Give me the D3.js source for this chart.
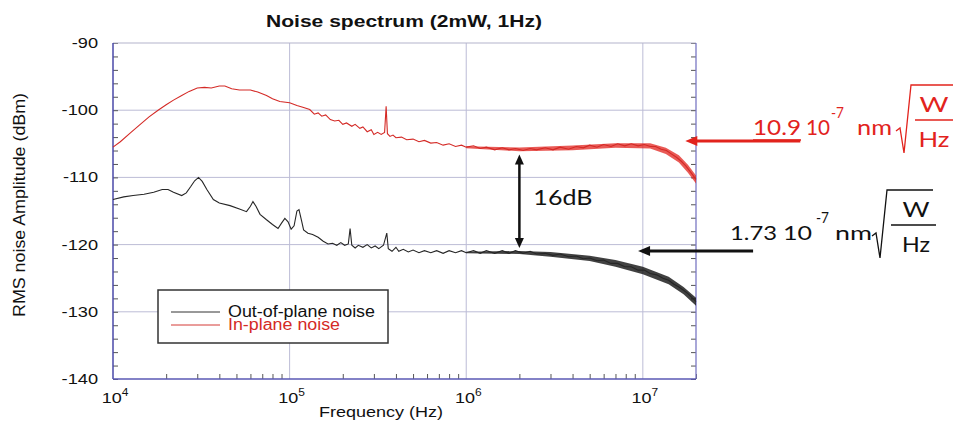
<!DOCTYPE html>
<html>
<head>
<meta charset="utf-8">
<script src="https://cdn.jsdelivr.net/npm/d3@7"></script>
<style>
body{margin:0;background:#fff;}
text{font-family:"Liberation Sans",Arial,sans-serif;}
.ann text{font-family:Lato,"Open Sans",sans-serif;}
</style>
</head>
<body>
<svg class="chart"></svg>
<script>
var title = 'Noise spectrum (2mW, 1Hz)';
var xLabel = 'Frequency (Hz)';
var yLabel = 'RMS noise Amplitude (dBm)';
var xDomain = [1e4, 2e7];
var yDomain = [-140, -90];
var xMajor = [1e4, 1e5, 1e6, 1e7];
var xExp = ['4', '5', '6', '7'];
var yMajor = [-140, -130, -120, -110, -100, -90];
var seriesNames = ['Out-of-plane noise', 'In-plane noise'];

// [frequency Hz, dBm]
var inTrace = [[1e4,-105.5],[1.1e4,-104.7],[1.25e4,-103.4],[1.4e4,-102.3],[1.6e4,-101],[1.8e4,-100],[2e4,-99.2],
  [2.2e4,-98.5],[2.45e4,-97.8],[2.7e4,-97.2],[3e4,-96.7],[3.3e4,-96.6],[3.6e4,-96.7],[4e4,-96.4],[4.3e4,-96.4],
  [4.7e4,-96.8],[5.2e4,-97],[6e4,-97],[6.6e4,-97.3],[7.4e4,-97.8],[8e4,-98.3],[8.8e4,-98.7],[1e5,-98.9],
  [1.1e5,-99.3],[1.2e5,-99.6],[1.3e5,-99.9],[1.38e5,-100.6],[1.45e5,-100.4],[1.52e5,-100.9],[1.6e5,-100.7],
  [1.7e5,-101.4],[1.8e5,-101.6],[1.9e5,-101.5],[2e5,-102.1],[2.1e5,-101.9],[2.25e5,-102.4],[2.35e5,-102.1],
  [2.5e5,-102.7],[2.6e5,-102.5],[2.75e5,-103.2],[2.9e5,-102.9],[3e5,-103.6],[3.15e5,-103.3],[3.3e5,-103.6],
  [3.45e5,-103.3],[3.52e5,-99.4],[3.58e5,-103.5],[3.7e5,-103.9],[3.85e5,-103.7],[4e5,-104.1],[4.3e5,-104.0],
  [4.6e5,-104.4],[5e5,-104.3],[5.4e5,-104.7],[5.8e5,-104.5],[6.3e5,-104.9],[6.8e5,-104.8],[7.4e5,-105.2],
  [8e5,-105.0],[8.7e5,-105.4],[9.4e5,-105.2],[1e6,-105.5],[1.1e6,-105.3],[1.2e6,-105.7],[1.3e6,-105.5],
  [1.45e6,-105.9],[1.6e6,-105.6],[1.75e6,-105.9],[1.9e6,-105.7],[2.1e6,-106.0],[2.3e6,-105.7],[2.5e6,-105.9],
  [2.8e6,-105.6],[3.1e6,-105.9],[3.4e6,-105.5],[3.8e6,-105.8],[4.2e6,-105.4],[4.6e6,-105.6],[5e6,-105.2],
  [5.5e6,-105.5],[6e6,-105.1],[6.6e6,-105.4],[7.2e6,-105.0],[7.9e6,-105.3],[8.6e6,-105.0],[9.4e6,-105.3],
  [1.02e7,-105.1],[1.1e7,-105.4],[1.18e7,-105.4],[1.27e7,-105.8],[1.36e7,-106.0],[1.45e7,-106.5],
  [1.55e7,-107.0],[1.65e7,-107.6],[1.75e7,-108.3],[1.85e7,-109.1],[2e7,-110.3]];

// [frequency, upper dBm, lower dBm] of the thick noise band
var inBand = [[1e6,-105.35,-105.65],[2e6,-105.55,-106.1],[4e6,-105.25,-105.95],[7e6,-104.9,-105.6],
  [1.1e7,-104.9,-105.7],[1.35e7,-105.6,-106.5],[1.6e7,-106.7,-107.8],[1.8e7,-108.1,-109.3],[2e7,-109.7,-110.9]];

var outTrace = [[1e4,-113.3],[1.15e4,-112.9],[1.3e4,-112.7],[1.5e4,-112.5],[1.7e4,-112.2],[1.9e4,-111.8],
  [2.05e4,-111.8],[2.2e4,-112.2],[2.45e4,-112.7],[2.6e4,-112.3],[2.75e4,-111.4],[2.9e4,-110.5],[3.05e4,-110],
  [3.2e4,-110.6],[3.4e4,-111.8],[3.7e4,-113.3],[4e4,-113.8],[4.6e4,-114.2],[5.2e4,-114.7],[5.7e4,-115.1],
  [6e4,-114.3],[6.2e4,-113.6],[6.45e4,-114.3],[6.8e4,-115.5],[7.4e4,-116.3],[8e4,-117],[8.6e4,-117.6],
  [9e4,-116.8],[9.4e4,-116.1],[9.8e4,-116.6],[1.02e5,-117.7],[1.06e5,-117.2],[1.1e5,-115],[1.13e5,-114.8],
  [1.17e5,-116.5],[1.2e5,-117.8],[1.27e5,-118.3],[1.35e5,-118.5],[1.45e5,-118.9],[1.55e5,-119.5],
  [1.65e5,-119.9],[1.75e5,-119.8],[1.85e5,-120.1],[1.95e5,-119.7],[2.05e5,-120.1],[2.15e5,-119.9],
  [2.2e5,-117.6],[2.25e5,-120.1],[2.35e5,-120.5],[2.45e5,-120.1],[2.6e5,-120.4],[2.75e5,-120.0],
  [2.9e5,-120.5],[3.05e5,-120.2],[3.2e5,-120.6],[3.4e5,-120.1],[3.55e5,-118.3],[3.62e5,-120.6],
  [3.8e5,-121.0],[4e5,-120.4],[4.15e5,-121.0],[4.4e5,-120.7],[4.7e5,-121.1],[5e5,-120.8],[5.4e5,-121.2],
  [5.8e5,-120.9],[6.3e5,-121.2],[6.8e5,-120.9],[7.4e5,-121.3],[8e5,-120.9],[8.7e5,-121.2],[9.4e5,-120.9],
  [1e6,-121.2],[1.1e6,-120.9],[1.2e6,-121.3],[1.3e6,-120.9],[1.45e6,-121.3],[1.6e6,-120.9],[1.75e6,-121.3],
  [1.9e6,-120.9],[2.1e6,-121.3],[2.3e6,-121.0],[2.5e6,-121.4],[2.8e6,-121.3],[3.1e6,-121.6],[3.4e6,-121.4],
  [3.8e6,-121.8],[4.2e6,-121.7],[4.6e6,-122.1],[5e6,-122.0],[5.5e6,-122.4],[6e6,-122.3],[6.6e6,-122.8],
  [7.2e6,-122.8],[7.9e6,-123.3],[8.6e6,-123.3],[9.4e6,-123.8],[1.02e7,-123.8],[1.1e7,-124.3],[1.2e7,-124.5],
  [1.3e7,-125.0],[1.4e7,-125.3],[1.5e7,-125.9],[1.6e7,-126.3],[1.7e7,-126.8],[1.8e7,-127.3],[1.9e7,-127.9],
  [2e7,-128.5]];

var outBand = [[1e6,-121.05,-121.3],[2e6,-120.95,-121.4],[3e6,-121.1,-121.8],[5e6,-121.65,-122.45],
  [7e6,-122.3,-123.3],[1e7,-123.3,-124.4],[1.4e7,-124.8,-125.9],[1.7e7,-126.3,-127.4],[2e7,-127.9,-129.1]];

var gapArrow = {f: 2e6, top: -106.6, bottom: -120.5, label: '16dB'};
var inNote = {f: 1.74e7, db: -104.6, value: '10.9'};
var outNote = {f: 9.4e6, db: -120.95, value: '1.73'};

var svgwidth = 953;
var svgheight = 425;

var margins = {
  top: 43,
  bottom: 46,
  left: 113,
  right: 257
};

var width = svgwidth - margins.left - margins.right;
var height = svgheight - margins.top - margins.bottom;

var svg = d3.select('.chart').attr('width', svgwidth).attr('height', svgheight);

var xscale = d3.scaleLog().domain(xDomain).range([margins.left, margins.left + width]);
var yscale = d3.scaleLinear().domain(yDomain).range([margins.top + height, margins.top]);

var gridColor = '#bcbcd6';
var redColor = '#e2231d';

// grid
var grid = svg.append('g').classed('grid', true);
grid.selectAll('.gx').data(xMajor.slice(1)).enter().append('line')
    .attr('x1', function(d){ return xscale(d); })
    .attr('x2', function(d){ return xscale(d); })
    .attr('y1', margins.top).attr('y2', margins.top + height)
    .attr('stroke', gridColor).attr('stroke-width', 1);
grid.selectAll('.gy').data(yMajor.slice(1, -1)).enter().append('line')
    .attr('x1', margins.left).attr('x2', margins.left + width)
    .attr('y1', function(d){ return yscale(d); })
    .attr('y2', function(d){ return yscale(d); })
    .attr('stroke', gridColor).attr('stroke-width', 1);

// minor ticks, pointing inward
var yMinor = d3.range(yDomain[0], yDomain[1] + 1, 2);
var xMinor = [];
xMajor.forEach(function(dec){
  for (var k = 2; k < 10; k++) {
    if (dec * k <= xDomain[1]) xMinor.push(dec * k);
  }
});

svg.append('g')
   .attr('transform', 'translate(' + margins.left + ',0)')
   .call(d3.axisRight(yscale).tickValues(yMinor).tickSize(5).tickFormat(''))
   .call(function(g){ g.select('.domain').remove(); })
   .selectAll('line').attr('stroke', '#555').attr('stroke-width', 1);

svg.append('g')
   .attr('transform', 'translate(' + (margins.left + width) + ',0)')
   .call(d3.axisLeft(yscale).tickValues(yMinor).tickSize(5).tickFormat(''))
   .call(function(g){ g.select('.domain').remove(); })
   .selectAll('line').attr('stroke', '#555').attr('stroke-width', 1);

svg.append('g')
   .attr('transform', 'translate(0,' + (margins.top + height) + ')')
   .call(d3.axisTop(xscale).tickValues(xMinor).tickSize(5).tickFormat(''))
   .call(function(g){ g.select('.domain').remove(); })
   .selectAll('line').attr('stroke', '#555').attr('stroke-width', 1);

// frame
svg.append('line').attr('x1', margins.left).attr('x2', margins.left + width)
   .attr('y1', margins.top).attr('y2', margins.top)
   .attr('stroke', '#b4b4cc').attr('stroke-width', 1.2);
svg.append('line').attr('x1', margins.left + width).attr('x2', margins.left + width)
   .attr('y1', margins.top).attr('y2', margins.top + height)
   .attr('stroke', '#7a78c4').attr('stroke-width', 1.3);
svg.append('line').attr('x1', margins.left).attr('x2', margins.left)
   .attr('y1', margins.top).attr('y2', margins.top + height)
   .attr('stroke', '#4a48a8').attr('stroke-width', 1.5);
svg.append('line').attr('x1', margins.left).attr('x2', margins.left + width)
   .attr('y1', margins.top + height).attr('y2', margins.top + height)
   .attr('stroke', '#5a58b4').attr('stroke-width', 1.5);

// tick labels
svg.selectAll('.ylab').data(yMajor).enter().append('text')
   .attr('transform', function(d){ return 'translate(' + (margins.left - 15) + ',' + yscale(d) + ') scale(1.3,1)'; })
   .attr('text-anchor', 'end')
   .attr('dy', '0.36em')
   .style('font-size', '14px')
   .attr('fill', '#111')
   .text(function(d){ return d; });

var xl = svg.selectAll('.xlab').data(xMajor).enter().append('text')
   .attr('transform', function(d){ return 'translate(' + (xscale(d) + 2) + ',' + (margins.top + height + 24) + ') scale(1.2,1)'; })
   .attr('text-anchor', 'middle')
   .style('font-size', '15px')
   .attr('fill', '#111');
xl.append('tspan').text('10');
xl.append('tspan').attr('dy', -7).style('font-size', '10px').text(function(d, i){ return xExp[i]; });

// titles
svg.append('text').attr('x', 266).attr('y', 27)
   .attr('textLength', 276).attr('lengthAdjust', 'spacingAndGlyphs')
   .style('font-size', '16.5px').style('font-weight', 'bold').attr('fill', '#111')
   .text(title);

svg.append('text').attr('x', 319).attr('y', 417)
   .attr('textLength', 124).attr('lengthAdjust', 'spacingAndGlyphs')
   .style('font-size', '14.5px').attr('fill', '#111')
   .text(xLabel);

svg.append('text').attr('transform', 'translate(25,205) rotate(-90)')
   .attr('text-anchor', 'middle')
   .attr('textLength', 224).attr('lengthAdjust', 'spacingAndGlyphs')
   .style('font-size', '16px').attr('fill', '#111')
   .text(yLabel);

// curves
var linegen = d3.line().x(function(d){ return xscale(d[0]); }).y(function(d){ return yscale(d[1]); });
var bandgen = d3.area().x(function(d){ return xscale(d[0]); })
                .y0(function(d){ return yscale(d[2]); })
                .y1(function(d){ return yscale(d[1]); });

var curves = svg.append('g').classed('curves', true);

curves.append('path').attr('d', bandgen(inBand)).attr('fill', redColor).attr('opacity', 0.75);
curves.append('path').attr('d', linegen(inTrace))
      .attr('fill', 'none').attr('stroke', '#d42a26').attr('stroke-width', 1.1);

curves.append('path').attr('d', bandgen(outBand)).attr('fill', '#111').attr('opacity', 0.8);
curves.append('path').attr('d', linegen(outTrace))
      .attr('fill', 'none').attr('stroke', '#262626').attr('stroke-width', 1.1);

// legend
var legend = svg.append('g').classed('legend', true);
legend.append('rect').attr('x', 158).attr('y', 290).attr('width', 230).attr('height', 53)
      .attr('fill', '#fff').attr('stroke', '#333').attr('stroke-width', 1.5);
var legColors = ['#333', '#d43a36'];
var legText = ['#111', '#d42a26'];
var legLens = [147, 112];
seriesNames.forEach(function(name, i){
  legend.append('line').attr('x1', 171).attr('x2', 220)
        .attr('y1', 312 + i * 13).attr('y2', 312 + i * 13)
        .attr('stroke', legColors[i]).attr('stroke-width', 1);
  legend.append('text').attr('x', 228).attr('y', 317 + i * 13)
        .attr('textLength', legLens[i]).attr('lengthAdjust', 'spacingAndGlyphs')
        .style('font-size', '16px').attr('fill', legText[i])
        .text(name);
});

// annotations
var ann = svg.append('g').classed('ann', true);

var head = function(x, y, dir, color, len, half){
  // dir: 'l' left, 'u' up, 'd' down
  var pts;
  if (dir == 'l') pts = [[x, y], [x + len, y - half], [x + len, y + half]];
  else if (dir == 'u') pts = [[x, y], [x - half, y + len], [x + half, y + len]];
  else pts = [[x, y], [x - half, y - len], [x + half, y - len]];
  ann.append('path').attr('d', 'M' + pts.join('L') + 'Z').attr('fill', color);
};

var gx = xscale(gapArrow.f);
var gy1 = yscale(gapArrow.top);
var gy2 = yscale(gapArrow.bottom);
ann.append('line').attr('x1', gx).attr('x2', gx).attr('y1', gy1 + 8).attr('y2', gy2 - 8)
   .attr('stroke', '#111').attr('stroke-width', 2.5);
head(gx, gy1, 'u', '#111', 10, 4.5);
head(gx, gy2, 'd', '#111', 10, 4.5);
ann.append('text').attr('x', gx + 14).attr('y', (gy1 + gy2) / 2 + 4)
   .attr('textLength', 59).attr('lengthAdjust', 'spacingAndGlyphs')
   .style('font-size', '22px').attr('fill', '#111')
   .text(gapArrow.label);

var drawNote = function(note, color, o){
  var tx = xscale(note.f);
  var ty = yscale(note.db);
  ann.append('line').attr('x1', tx + 9).attr('x2', tx + 115).attr('y1', ty).attr('y2', ty)
     .attr('stroke', color).attr('stroke-width', 3);
  head(tx, ty, 'l', color, 12, 5);

  var t = function(str, x, y, size, len, anchor){
    ann.append('text').attr('x', x).attr('y', y)
       .attr('text-anchor', anchor || 'start')
       .attr('textLength', len).attr('lengthAdjust', 'spacingAndGlyphs')
       .style('font-size', size + 'px').attr('fill', color)
       .text(str);
  };
  t(note.value, o.x, o.base, o.size, o.valueLen);
  t('10', o.tenX, o.base, o.size, o.tenLen);
  t('-7', o.supX, o.base - 17, 16, 13);
  t('nm', o.nmX, o.base, o.size, o.nmLen);

  var r = o.rootX;
  ann.append('path')
     .attr('d', 'M' + r + ',' + (o.base - 4) + 'L' + (r + 4) + ',' + (o.base - 7) +
                'L' + (r + 8) + ',' + (o.base + 18) + 'L' + (r + 15) + ',' + (o.base - 50) +
                'L' + o.rootEnd + ',' + (o.base - 50))
     .attr('fill', 'none').attr('stroke', color).attr('stroke-width', 1.3);
  ann.append('line').attr('x1', r + 19).attr('x2', o.rootEnd + 3)
     .attr('y1', o.base - 15).attr('y2', o.base - 15)
     .attr('stroke', color).attr('stroke-width', 1.3);
  t('W', o.fracX, o.base - 23, 22, o.wLen, 'middle');
  t('Hz', o.fracX, o.base + 12, 22, o.hzLen, 'middle');
};

drawNote(inNote, redColor, {x: 753, base: 135, size: 21, valueLen: 48, tenX: 806, tenLen: 24,
  supX: 831, nmX: 857, nmLen: 35, rootX: 896, rootEnd: 955, fracX: 934, wLen: 29, hzLen: 31});
// underline under the value
ann.append('line').attr('x1', 753).attr('x2', 801).attr('y1', 140).attr('y2', 140)
   .attr('stroke', redColor).attr('stroke-width', 1.5);

drawNote(outNote, '#111', {x: 730, base: 240, size: 20, valueLen: 47, tenX: 783, tenLen: 29,
  supX: 816, nmX: 835, nmLen: 37, rootX: 872, rootEnd: 933, fracX: 916, wLen: 27, hzLen: 28});
</script>
</body>
</html>
